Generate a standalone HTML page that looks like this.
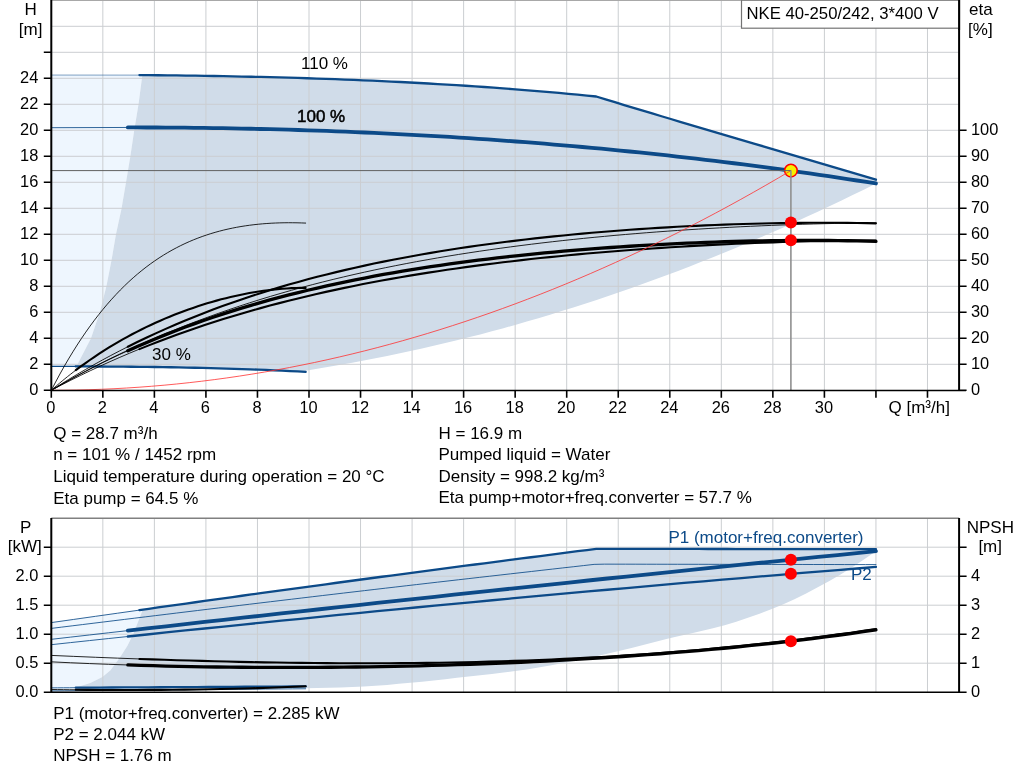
<!DOCTYPE html>
<html><head><meta charset="utf-8"><title>NKE 40-250/242</title>
<style>
html,body{margin:0;padding:0;background:#fff;}
body{width:1024px;height:781px;overflow:hidden;}
svg{display:block;}
text{font-family:"Liberation Sans",sans-serif;font-size:17px;fill:#000;}
.b{fill:#0c4a88;}
.m{text-anchor:middle;}
.t{font-size:16.4px;}
.e{text-anchor:end;}
</style></head><body>
<svg width="1024" height="781" viewBox="0 0 1024 781">
<rect width="1024" height="781" fill="#fff"/>

<path d="M51.30,75.05 L142.40,74.79 L138.51,104.30 L134.20,130.43 L130.31,156.56 L126.01,182.30 L121.50,208.69 L115.98,234.30 L111.50,260.30 L106.40,286.30 L99.80,312.30 L90.99,338.30 L76.61,366.12 L51.30,365.99Z" fill="#eef6fe"/>
<path d="M142.40,75.13 L151.68,75.21 L160.97,75.30 L170.25,75.40 L179.54,75.51 L188.82,75.63 L198.11,75.76 L207.39,75.90 L216.68,76.06 L225.97,76.22 L235.25,76.40 L244.54,76.59 L253.82,76.80 L263.11,77.02 L272.39,77.25 L281.68,77.49 L290.96,77.75 L300.25,78.03 L309.53,78.32 L318.82,78.62 L328.10,78.94 L337.39,79.28 L346.67,79.63 L355.96,80.00 L365.25,80.39 L374.53,80.79 L383.82,81.22 L393.10,81.66 L402.39,82.12 L411.67,82.59 L420.96,83.09 L430.24,83.61 L439.53,84.14 L448.81,84.70 L458.10,85.27 L467.38,85.87 L476.67,86.49 L485.96,87.13 L495.24,87.79 L504.53,88.48 L513.81,89.18 L523.10,89.91 L532.38,90.66 L541.67,91.44 L550.95,92.24 L560.24,93.06 L569.52,93.91 L578.81,94.78 L588.09,95.68 L597.38,96.82 L606.66,99.68 L615.95,102.52 L625.24,105.34 L634.52,108.15 L643.81,110.94 L653.09,113.72 L662.38,116.49 L671.66,119.26 L680.95,122.01 L690.23,124.76 L699.52,127.51 L708.80,130.25 L718.09,132.98 L727.37,135.72 L736.66,138.46 L745.95,141.19 L755.23,143.93 L764.52,146.67 L773.80,149.41 L783.09,152.15 L792.37,154.89 L801.66,157.64 L810.94,160.39 L820.23,163.14 L829.51,165.90 L838.80,168.65 L848.08,171.41 L857.37,174.18 L866.65,176.94 L875.94,179.70 L875.94,183.60 L875.94,183.60 L864.30,189.39 L852.66,195.10 L841.02,200.73 L829.39,206.28 L817.75,211.74 L806.11,217.12 L794.47,222.42 L782.83,227.64 L771.19,232.78 L759.55,237.83 L747.92,242.80 L736.28,247.69 L724.64,252.49 L713.00,257.21 L701.36,261.85 L689.72,266.41 L678.08,270.89 L666.45,275.28 L654.81,279.59 L643.17,283.82 L631.53,287.97 L619.89,292.03 L608.25,296.01 L596.61,299.91 L584.98,303.73 L573.34,307.46 L561.70,311.12 L550.06,314.69 L538.42,318.17 L526.78,321.58 L515.14,324.90 L503.51,328.14 L491.87,331.30 L480.23,334.38 L468.59,337.37 L456.95,340.28 L445.31,343.11 L433.67,345.86 L422.04,348.52 L410.40,351.10 L398.76,353.60 L387.12,356.02 L375.48,358.36 L363.84,360.61 L352.20,362.78 L340.57,364.87 L328.93,366.87 L317.29,368.80 L305.65,370.64 L305.65,371.84 L293.55,371.21 L281.45,370.63 L269.35,370.10 L257.26,369.61 L245.16,369.16 L233.06,368.76 L220.96,368.39 L208.86,368.07 L196.76,367.77 L184.67,367.51 L172.57,367.29 L160.47,367.09 L148.37,366.92 L136.27,366.78 L124.17,366.66 L112.08,366.57 L99.98,366.50 L87.88,366.44 L75.78,366.41 L76.61,366.12 L90.99,338.30 L99.80,312.30 L106.40,286.30 L111.50,260.30 L115.98,234.30 L121.50,208.69 L126.01,182.30 L130.31,156.56 L134.20,130.43 L138.51,104.30 L142.40,74.79Z" fill="#d0dce9"/>
<path d="M51.30,622.60 L142.71,609.84 L137.99,621.90 L133.30,634.03 L127.30,646.09 L119.90,657.52 L110.49,670.28 L102.40,677.00 L90.29,682.98 L74.91,687.68 L51.30,692.20Z" fill="#eef6fe"/>
<path d="M142.71,609.64 L151.99,608.33 L161.27,607.03 L170.55,605.72 L179.83,604.42 L189.11,603.12 L198.39,601.82 L207.68,600.52 L216.96,599.23 L226.24,597.94 L235.52,596.65 L244.80,595.37 L254.08,594.08 L263.36,592.80 L272.65,591.53 L281.93,590.26 L291.21,588.99 L300.49,587.72 L309.77,586.46 L319.05,585.20 L328.34,583.94 L337.62,582.69 L346.90,581.44 L356.18,580.19 L365.46,578.95 L374.74,577.71 L384.02,576.47 L393.31,575.24 L402.59,574.01 L411.87,572.78 L421.15,571.56 L430.43,570.33 L439.71,569.11 L448.99,567.90 L458.28,566.68 L467.56,565.47 L476.84,564.26 L486.12,563.05 L495.40,561.85 L504.68,560.65 L513.96,559.44 L523.25,558.24 L532.53,557.04 L541.81,555.85 L551.09,554.65 L560.37,553.45 L569.65,552.26 L578.93,551.06 L588.22,549.87 L597.50,548.83 L606.78,548.84 L616.06,548.85 L625.34,548.87 L634.62,548.88 L643.90,548.89 L653.19,548.91 L662.47,548.92 L671.75,548.93 L681.03,548.95 L690.31,548.96 L699.59,548.97 L708.87,548.99 L718.16,549.00 L727.44,549.01 L736.72,549.03 L746.00,549.04 L755.28,549.05 L764.56,549.07 L773.84,549.08 L783.13,549.10 L792.41,549.11 L801.69,549.12 L810.97,549.14 L820.25,549.15 L829.53,549.16 L838.81,549.18 L848.10,549.19 L857.38,549.20 L866.66,549.22 L875.94,549.23 L875.94,551.26 L864.30,559.27 L852.66,566.92 L841.02,574.16 L829.39,580.97 L817.75,587.34 L806.11,593.44 L794.47,599.19 L782.83,604.51 L771.19,609.34 L759.55,613.76 L747.92,617.87 L736.28,621.66 L724.64,625.14 L713.00,628.28 L701.36,631.07 L689.72,633.69 L678.08,636.30 L666.45,639.08 L654.81,642.03 L643.17,645.05 L631.53,648.03 L619.89,650.87 L608.25,653.55 L596.61,656.16 L584.98,658.66 L573.34,661.04 L561.70,663.27 L550.06,665.43 L538.42,667.47 L526.78,669.38 L515.14,671.09 L503.51,672.60 L491.87,673.97 L480.23,675.25 L468.59,676.52 L456.95,677.81 L445.31,679.14 L433.67,680.44 L422.04,681.67 L410.40,682.78 L398.76,683.87 L387.12,684.92 L375.48,685.84 L363.84,686.55 L352.20,687.02 L340.57,687.45 L328.93,687.80 L317.29,688.05 L305.65,688.14 L305.65,686.42 L280.11,686.56 L254.57,686.71 L229.03,686.85 L203.49,686.99 L177.95,687.14 L152.40,687.28 L126.86,687.42 L101.32,687.57 L75.78,687.71 L74.91,687.68 L90.29,682.98 L102.40,677.00 L110.49,670.28 L119.90,657.52 L127.30,646.09 L133.30,634.03 L137.99,621.90 L142.71,609.84Z" fill="#d0dce9"/>
<path d="M102.84,0V390.30 M102.84,518V692.20 M154.38,0V390.30 M154.38,518V692.20 M205.92,0V390.30 M205.92,518V692.20 M257.46,0V390.30 M257.46,518V692.20 M309.00,0V390.30 M309.00,518V692.20 M360.54,0V390.30 M360.54,518V692.20 M412.08,0V390.30 M412.08,518V692.20 M463.62,0V390.30 M463.62,518V692.20 M515.16,0V390.30 M515.16,518V692.20 M566.70,0V390.30 M566.70,518V692.20 M618.24,0V390.30 M618.24,518V692.20 M669.78,0V390.30 M669.78,518V692.20 M721.32,0V390.30 M721.32,518V692.20 M772.86,0V390.30 M772.86,518V692.20 M824.40,0V390.30 M824.40,518V692.20 M875.94,0V390.30 M875.94,518V692.20 M927.48,0V390.30 M927.48,518V692.20 M51.30,364.30H959.10 M51.30,338.30H959.10 M51.30,312.30H959.10 M51.30,286.30H959.10 M51.30,260.30H959.10 M51.30,234.30H959.10 M51.30,208.30H959.10 M51.30,182.30H959.10 M51.30,156.30H959.10 M51.30,130.30H959.10 M51.30,104.30H959.10 M51.30,78.30H959.10 M51.30,52.30H959.10 M51.30,26.30H959.10 M51.30,663.20H959.10 M51.30,634.20H959.10 M51.30,605.20H959.10 M51.30,576.20H959.10 M51.30,547.20H959.10" stroke="#cbced1" stroke-width="1" fill="none"/>
<path d="M51.3,0.3H959.1" stroke="#a8a8a8" stroke-width="1.2"/>
<path d="M51.3,518.2H959.1" stroke="#808080" stroke-width="1.6"/>
<path d="M51.30,75.05 L139.43,75.11" stroke="#0c4a88" stroke-width="0.85" fill="none" stroke-linecap="round" stroke-linejoin="round" opacity="0.6"/>
<path d="M51.30,127.70 L127.84,127.46" stroke="#0c4a88" stroke-width="0.85" fill="none" stroke-linecap="round" stroke-linejoin="round" />
<path d="M51.30,366.41 L75.78,366.41" stroke="#0c4a88" stroke-width="1.2" fill="none" stroke-linecap="round" stroke-linejoin="round" />
<path d="M139.43,75.11 L148.76,75.18 L158.08,75.27 L167.40,75.37 L176.72,75.47 L186.05,75.59 L195.37,75.72 L204.69,75.86 L214.02,76.01 L223.34,76.18 L232.66,76.35 L241.98,76.54 L251.31,76.74 L260.63,76.96 L269.95,77.19 L279.28,77.43 L288.60,77.69 L297.92,77.96 L307.25,78.24 L316.57,78.55 L325.89,78.86 L335.21,79.20 L344.54,79.55 L353.86,79.92 L363.18,80.30 L372.51,80.70 L381.83,81.12 L391.15,81.56 L400.47,82.02 L409.80,82.50 L419.12,82.99 L428.44,83.50 L437.77,84.04 L447.09,84.59 L456.41,85.17 L465.73,85.76 L475.06,86.38 L484.38,87.02 L493.70,87.68 L503.03,88.36 L512.35,89.07 L521.67,89.80 L530.99,90.55 L540.32,91.32 L549.64,92.12 L558.96,92.95 L568.29,93.80 L577.61,94.67 L586.93,95.57 L596.25,96.49 L605.58,99.35 L614.90,102.20 L624.22,105.04 L633.55,107.86 L642.87,110.66 L652.19,113.45 L661.51,116.24 L670.84,119.01 L680.16,121.78 L689.48,124.54 L698.81,127.30 L708.13,130.05 L717.45,132.80 L726.77,135.54 L736.10,138.29 L745.42,141.04 L754.74,143.79 L764.07,146.54 L773.39,149.29 L782.71,152.04 L792.03,154.79 L801.36,157.55 L810.68,160.31 L820.00,163.08 L829.33,165.84 L838.65,168.61 L847.97,171.38 L857.29,174.15 L866.62,176.93 L875.94,179.70" stroke="#0c4a88" stroke-width="2.3" fill="none" stroke-linecap="round" stroke-linejoin="round" />
<path d="M127.84,127.46 L137.31,127.47 L146.78,127.49 L156.25,127.52 L165.72,127.57 L175.19,127.64 L184.65,127.72 L194.12,127.82 L203.59,127.93 L213.06,128.07 L222.53,128.21 L232.00,128.38 L241.47,128.56 L250.94,128.76 L260.41,128.98 L269.88,129.21 L279.35,129.46 L288.82,129.72 L298.29,130.01 L307.76,130.31 L317.23,130.63 L326.70,130.96 L336.17,131.32 L345.64,131.69 L355.11,132.08 L364.58,132.48 L374.05,132.91 L383.52,133.35 L392.99,133.81 L402.46,134.29 L411.93,134.79 L421.40,135.31 L430.87,135.84 L440.34,136.39 L449.81,136.97 L459.27,137.56 L468.74,138.17 L478.21,138.80 L487.68,139.44 L497.15,140.11 L506.62,140.80 L516.09,141.50 L525.56,142.22 L535.03,142.97 L544.50,143.73 L553.97,144.52 L563.44,145.32 L572.91,146.14 L582.38,146.99 L591.85,147.85 L601.32,148.73 L610.79,149.63 L620.26,150.56 L629.73,151.50 L639.20,152.47 L648.67,153.45 L658.14,154.46 L667.61,155.48 L677.08,156.53 L686.55,157.60 L696.02,158.69 L705.49,159.80 L714.96,160.93 L724.43,162.08 L733.90,163.26 L743.36,164.45 L752.83,165.67 L762.30,166.91 L771.77,168.17 L781.24,169.45 L790.71,170.75 L800.18,172.08 L809.65,173.43 L819.12,174.80 L828.59,176.19 L838.06,177.61 L847.53,179.04 L857.00,180.50 L866.47,181.99 L875.94,183.49" stroke="#0c4a88" stroke-width="3.8" fill="none" stroke-linecap="round" stroke-linejoin="round" />
<path d="M75.78,366.41 L83.71,366.43 L91.63,366.46 L99.56,366.49 L107.49,366.54 L115.41,366.59 L123.34,366.66 L131.27,366.73 L139.19,366.81 L147.12,366.91 L155.05,367.01 L162.97,367.13 L170.90,367.26 L178.83,367.40 L186.75,367.56 L194.68,367.73 L202.61,367.91 L210.53,368.11 L218.46,368.32 L226.38,368.55 L234.31,368.80 L242.24,369.06 L250.16,369.34 L258.09,369.64 L266.02,369.96 L273.94,370.30 L281.87,370.65 L289.80,371.03 L297.72,371.42 L305.65,371.84" stroke="#0c4a88" stroke-width="2.3" fill="none" stroke-linecap="round" stroke-linejoin="round" />
<path d="M51.30,390.30 L55.61,382.02 L59.92,374.04 L64.23,366.36 L68.54,358.96 L72.86,351.85 L77.17,345.01 L81.48,338.43 L85.79,332.11 L90.10,326.04 L94.41,320.22 L98.72,314.64 L103.03,309.29 L107.34,304.16 L111.65,299.25 L115.97,294.55 L120.28,290.06 L124.59,285.77 L128.90,281.67 L133.21,277.76 L137.52,274.04 L141.83,270.49 L146.14,267.11 L150.45,263.90 L154.76,260.85 L159.08,257.95 L163.39,255.21 L167.70,252.61 L172.01,250.15 L176.32,247.83 L180.63,245.64 L184.94,243.57 L189.25,241.63 L193.56,239.81 L197.87,238.11 L202.19,236.51 L206.50,235.02 L210.81,233.64 L215.12,232.35 L219.43,231.16 L223.74,230.06 L228.05,229.05 L232.36,228.13 L236.67,227.29 L240.98,226.53 L245.30,225.85 L249.61,225.24 L253.92,224.71 L258.23,224.24 L262.54,223.84 L266.85,223.51 L271.16,223.23 L275.47,223.02 L279.78,222.87 L284.09,222.78 L288.41,222.73 L292.72,222.75 L297.03,222.81 L301.34,222.93 L305.65,223.09" stroke="#000" stroke-width="0.85" fill="none" stroke-linecap="round" stroke-linejoin="round" />
<path d="M51.30,390.30 L54.02,387.91 L56.74,385.56 L59.46,383.26 L62.18,380.99 L64.90,378.76 L67.62,376.56 L70.34,374.41 L73.06,372.29 L75.78,370.21" stroke="#000" stroke-width="0.85" fill="none" stroke-linecap="round" stroke-linejoin="round" />
<path d="M75.78,370.21 L80.47,366.70 L85.16,363.30 L89.86,359.99 L94.55,356.78 L99.24,353.67 L103.93,350.64 L108.62,347.71 L113.31,344.86 L118.00,342.09 L122.69,339.41 L127.38,336.81 L132.08,334.28 L136.77,331.84 L141.46,329.46 L146.15,327.16 L150.84,324.93 L155.53,322.77 L160.22,320.68 L164.91,318.66 L169.61,316.70 L174.30,314.81 L178.99,312.99 L183.68,311.22 L188.37,309.52 L193.06,307.89 L197.75,306.31 L202.44,304.80 L207.13,303.35 L211.83,301.96 L216.52,300.63 L221.21,299.36 L225.90,298.16 L230.59,297.02 L235.28,295.94 L239.97,294.92 L244.66,293.97 L249.36,293.08 L254.05,292.26 L258.74,291.50 L263.43,290.81 L268.12,290.19 L272.81,289.64 L277.50,289.16 L282.19,288.76 L286.89,288.43 L291.58,288.17 L296.27,287.99 L300.96,287.90 L305.65,287.88" stroke="#000" stroke-width="2.1" fill="none" stroke-linecap="round" stroke-linejoin="round" />
<path d="M51.30,390.30 L61.74,384.30 L72.18,378.47 L82.62,372.82 L93.05,367.33 L103.49,362.02 L113.93,356.86 L124.37,351.87 L134.81,347.02 L145.25,342.33 L155.68,337.78 L166.12,333.38 L176.56,329.11 L187.00,324.98 L197.44,320.98 L207.88,317.11 L218.32,313.36 L228.75,309.73 L239.19,306.22 L249.63,302.83 L260.07,299.54 L270.51,296.37 L280.95,293.30 L291.39,290.33 L301.82,287.46 L312.26,284.68 L322.70,282.00 L333.14,279.41 L343.58,276.91 L354.02,274.49 L364.45,272.16 L374.89,269.90 L385.33,267.73 L395.77,265.63 L406.21,263.60 L416.65,261.64 L427.09,259.75 L437.52,257.93 L447.96,256.17 L458.40,254.48 L468.84,252.85 L479.28,251.27 L489.72,249.75 L500.15,248.29 L510.59,246.88 L521.03,245.52 L531.47,244.21 L541.91,242.95 L552.35,241.74 L562.79,240.57 L573.22,239.45 L583.66,238.37 L594.10,237.34 L604.54,236.35 L614.98,235.39 L625.42,234.48 L635.85,233.60 L646.29,232.76 L656.73,231.96 L667.17,231.19 L677.61,230.46 L688.05,229.76 L698.49,229.10 L708.92,228.47 L719.36,227.88 L729.80,227.31 L740.24,226.78 L750.68,226.29 L761.12,225.82 L771.56,225.39 L781.99,224.99 L792.43,224.62 L802.87,224.28 L813.31,223.98 L823.75,223.70 L834.19,223.46 L844.62,223.26 L855.06,223.09 L865.50,222.95 L875.94,222.85" stroke="#000" stroke-width="0.85" fill="none" stroke-linecap="round" stroke-linejoin="round" />
<path d="M51.30,390.30 L61.09,385.16 L70.89,380.18 L80.68,375.33 L90.47,370.63 L100.26,366.07 L110.06,361.63 L119.85,357.33 L129.64,353.16 L139.43,349.11" stroke="#000" stroke-width="0.85" fill="none" stroke-linecap="round" stroke-linejoin="round" />
<path d="M139.43,349.11 L148.76,345.37 L158.08,341.74 L167.40,338.21 L176.72,334.78 L186.05,331.45 L195.37,328.22 L204.69,325.08 L214.02,322.04 L223.34,319.09 L232.66,316.22 L241.98,313.44 L251.31,310.74 L260.63,308.12 L269.95,305.58 L279.28,303.12 L288.60,300.74 L297.92,298.42 L307.25,296.18 L316.57,294.00 L325.89,291.89 L335.21,289.85 L344.54,287.87 L353.86,285.95 L363.18,284.09 L372.51,282.29 L381.83,280.54 L391.15,278.85 L400.47,277.22 L409.80,275.63 L419.12,274.09 L428.44,272.61 L437.77,271.17 L447.09,269.77 L456.41,268.42 L465.73,267.11 L475.06,265.85 L484.38,264.63 L493.70,263.44 L503.03,262.30 L512.35,261.19 L521.67,260.12 L530.99,259.08 L540.32,258.08 L549.64,257.11 L558.96,256.18 L568.29,255.27 L577.61,254.40 L586.93,253.56 L596.25,252.75 L605.58,251.96 L614.90,251.21 L624.22,250.48 L633.55,249.78 L642.87,249.11 L652.19,248.46 L661.51,247.84 L670.84,247.25 L680.16,246.68 L689.48,246.13 L698.81,245.62 L708.13,245.12 L717.45,244.65 L726.77,244.20 L736.10,243.78 L745.42,243.38 L754.74,243.01 L764.07,242.66 L773.39,242.33 L782.71,242.03 L792.03,241.76 L801.36,241.51 L810.68,241.28 L820.00,241.08 L829.33,240.90 L838.65,240.75 L847.97,240.63 L857.29,240.54 L866.62,240.47 L875.94,240.43" stroke="#000" stroke-width="2.1" fill="none" stroke-linecap="round" stroke-linejoin="round" />
<path d="M51.30,390.30 L59.80,384.91 L68.31,379.66 L76.81,374.56 L85.32,369.59 L93.82,364.76 L102.32,360.06 L110.83,355.48 L119.33,351.04 L127.84,346.71" stroke="#000" stroke-width="0.85" fill="none" stroke-linecap="round" stroke-linejoin="round" />
<path d="M127.84,346.71 L137.31,342.04 L146.78,337.51 L156.25,333.12 L165.72,328.87 L175.19,324.76 L184.65,320.77 L194.12,316.91 L203.59,313.18 L213.06,309.56 L222.53,306.07 L232.00,302.68 L241.47,299.41 L250.94,296.25 L260.41,293.19 L269.88,290.23 L279.35,287.37 L288.82,284.60 L298.29,281.93 L307.76,279.35 L317.23,276.85 L326.70,274.44 L336.17,272.11 L345.64,269.87 L355.11,267.70 L364.58,265.60 L374.05,263.58 L383.52,261.63 L392.99,259.74 L402.46,257.92 L411.93,256.17 L421.40,254.48 L430.87,252.85 L440.34,251.28 L449.81,249.76 L459.27,248.30 L468.74,246.89 L478.21,245.53 L487.68,244.23 L497.15,242.97 L506.62,241.76 L516.09,240.60 L525.56,239.48 L535.03,238.40 L544.50,237.37 L553.97,236.37 L563.44,235.42 L572.91,234.51 L582.38,233.63 L591.85,232.79 L601.32,231.99 L610.79,231.22 L620.26,230.49 L629.73,229.79 L639.20,229.13 L648.67,228.50 L658.14,227.91 L667.61,227.34 L677.08,226.81 L686.55,226.31 L696.02,225.85 L705.49,225.41 L714.96,225.01 L724.43,224.64 L733.90,224.30 L743.36,224.00 L752.83,223.72 L762.30,223.48 L771.77,223.27 L781.24,223.10 L790.71,222.96 L800.18,222.85 L809.65,222.78 L819.12,222.75 L828.59,222.75 L838.06,222.79 L847.53,222.87 L857.00,222.98 L866.47,223.14 L875.94,223.34" stroke="#000" stroke-width="2.1" fill="none" stroke-linecap="round" stroke-linejoin="round" />
<path d="M51.30,390.30 L59.80,385.39 L68.31,380.62 L76.81,375.98 L85.32,371.46 L93.82,367.08 L102.32,362.81 L110.83,358.67 L119.33,354.64 L127.84,350.73" stroke="#000" stroke-width="0.85" fill="none" stroke-linecap="round" stroke-linejoin="round" />
<path d="M127.84,350.73 L137.31,346.50 L146.78,342.41 L156.25,338.45 L165.72,334.62 L175.19,330.92 L184.65,327.33 L194.12,323.86 L203.59,320.50 L213.06,317.26 L222.53,314.12 L232.00,311.09 L241.47,308.16 L250.94,305.33 L260.41,302.59 L269.88,299.95 L279.35,297.39 L288.82,294.93 L298.29,292.54 L307.76,290.24 L317.23,288.02 L326.70,285.87 L336.17,283.80 L345.64,281.80 L355.11,279.87 L364.58,278.01 L374.05,276.21 L383.52,274.48 L392.99,272.81 L402.46,271.19 L411.93,269.64 L421.40,268.14 L430.87,266.69 L440.34,265.30 L449.81,263.95 L459.27,262.65 L468.74,261.41 L478.21,260.20 L487.68,259.04 L497.15,257.93 L506.62,256.85 L516.09,255.82 L525.56,254.83 L535.03,253.87 L544.50,252.95 L553.97,252.07 L563.44,251.23 L572.91,250.42 L582.38,249.64 L591.85,248.90 L601.32,248.19 L610.79,247.51 L620.26,246.86 L629.73,246.24 L639.20,245.66 L648.67,245.11 L658.14,244.58 L667.61,244.09 L677.08,243.63 L686.55,243.19 L696.02,242.79 L705.49,242.42 L714.96,242.08 L724.43,241.77 L733.90,241.49 L743.36,241.24 L752.83,241.02 L762.30,240.83 L771.77,240.68 L781.24,240.56 L790.71,240.48 L800.18,240.43 L809.65,240.42 L819.12,240.44 L828.59,240.50 L838.06,240.60 L847.53,240.73 L857.00,240.91 L866.47,241.13 L875.94,241.39" stroke="#000" stroke-width="3.3" fill="none" stroke-linecap="round" stroke-linejoin="round" />
<path d="M51.30,622.60 L73.33,619.47 L95.37,616.34 L117.40,613.22 L139.43,610.11" stroke="#0c4a88" stroke-width="0.85" fill="none" stroke-linecap="round" stroke-linejoin="round" />
<path d="M139.43,610.11 L148.76,608.79 L158.08,607.48 L167.40,606.16 L176.72,604.86 L186.05,603.55 L195.37,602.24 L204.69,600.94 L214.02,599.64 L223.34,598.34 L232.66,597.05 L241.98,595.76 L251.31,594.47 L260.63,593.18 L269.95,591.90 L279.28,590.62 L288.60,589.34 L297.92,588.07 L307.25,586.80 L316.57,585.53 L325.89,584.27 L335.21,583.01 L344.54,581.76 L353.86,580.50 L363.18,579.25 L372.51,578.01 L381.83,576.76 L391.15,575.52 L400.47,574.29 L409.80,573.05 L419.12,571.82 L428.44,570.59 L437.77,569.37 L447.09,568.15 L456.41,566.93 L465.73,565.71 L475.06,564.49 L484.38,563.28 L493.70,562.07 L503.03,560.86 L512.35,559.65 L521.67,558.45 L530.99,557.24 L540.32,556.04 L549.64,554.84 L558.96,553.63 L568.29,552.43 L577.61,551.23 L586.93,550.03 L596.25,548.83 L605.58,548.84 L614.90,548.85 L624.22,548.86 L633.55,548.88 L642.87,548.89 L652.19,548.91 L661.51,548.92 L670.84,548.93 L680.16,548.95 L689.48,548.96 L698.81,548.97 L708.13,548.99 L717.45,549.00 L726.77,549.01 L736.10,549.03 L745.42,549.04 L754.74,549.05 L764.07,549.07 L773.39,549.08 L782.71,549.09 L792.03,549.11 L801.36,549.12 L810.68,549.14 L820.00,549.15 L829.33,549.16 L838.65,549.18 L847.97,549.19 L857.29,549.20 L866.62,549.22 L875.94,549.23" stroke="#0c4a88" stroke-width="2.3" fill="none" stroke-linecap="round" stroke-linejoin="round" />
<path d="M51.30,628.40 L61.74,627.12 L72.18,625.83 L82.62,624.55 L93.05,623.27 L103.49,621.99 L113.93,620.71 L124.37,619.43 L134.81,618.15 L145.25,616.87 L155.68,615.60 L166.12,614.33 L176.56,613.06 L187.00,611.79 L197.44,610.52 L207.88,609.26 L218.32,607.99 L228.75,606.73 L239.19,605.48 L249.63,604.22 L260.07,602.97 L270.51,601.72 L280.95,600.48 L291.39,599.24 L301.82,598.00 L312.26,596.76 L322.70,595.53 L333.14,594.30 L343.58,593.07 L354.02,591.85 L364.45,590.63 L374.89,589.41 L385.33,588.20 L395.77,586.99 L406.21,585.78 L416.65,584.57 L427.09,583.37 L437.52,582.17 L447.96,580.97 L458.40,579.78 L468.84,578.59 L479.28,577.39 L489.72,576.21 L500.15,575.02 L510.59,573.83 L521.03,572.65 L531.47,571.47 L541.91,570.28 L552.35,569.10 L562.79,567.92 L573.22,566.75 L583.66,565.57 L594.10,564.39 L604.54,564.15 L614.98,564.17 L625.42,564.18 L635.85,564.20 L646.29,564.22 L656.73,564.24 L667.17,564.25 L677.61,564.27 L688.05,564.29 L698.49,564.31 L708.92,564.32 L719.36,564.34 L729.80,564.36 L740.24,564.37 L750.68,564.39 L761.12,564.41 L771.56,564.43 L781.99,564.44 L792.43,564.46 L802.87,564.48 L813.31,564.50 L823.75,564.51 L834.19,564.53 L844.62,564.55 L855.06,564.57 L865.50,564.58 L875.94,564.60" stroke="#0c4a88" stroke-width="0.85" fill="none" stroke-linecap="round" stroke-linejoin="round" />
<path d="M51.30,639.33 L70.43,637.14 L89.57,634.96 L108.70,632.78 L127.84,630.61" stroke="#0c4a88" stroke-width="0.85" fill="none" stroke-linecap="round" stroke-linejoin="round" />
<path d="M127.84,630.61 L147.02,628.44 L166.20,626.28 L185.38,624.13 L204.57,621.98 L223.75,619.84 L242.93,617.71 L262.11,615.59 L281.29,613.47 L300.48,611.36 L319.66,609.25 L338.84,607.15 L358.02,605.06 L377.20,602.98 L396.39,600.90 L415.57,598.83 L434.75,596.77 L453.93,594.71 L473.12,592.66 L492.30,590.62 L511.48,588.58 L530.66,586.56 L549.84,584.53 L569.03,582.52 L588.21,580.51 L607.39,578.51 L626.57,576.52 L645.75,574.53 L664.94,572.55 L684.12,570.58 L703.30,568.61 L722.48,566.65 L741.67,564.70 L760.85,562.76 L780.03,560.82 L799.21,558.89 L818.39,556.96 L837.58,555.04 L856.76,553.13 L875.94,551.23" stroke="#0c4a88" stroke-width="3.8" fill="none" stroke-linecap="round" stroke-linejoin="round" />
<path d="M51.30,644.69 L70.43,642.62 L89.57,640.57 L108.70,638.53 L127.84,636.51" stroke="#0c4a88" stroke-width="0.85" fill="none" stroke-linecap="round" stroke-linejoin="round" />
<path d="M127.84,636.51 L147.02,634.49 L166.20,632.48 L185.38,630.48 L204.57,628.50 L223.75,626.53 L242.93,624.57 L262.11,622.63 L281.29,620.70 L300.48,618.77 L319.66,616.87 L338.84,614.97 L358.02,613.09 L377.20,611.22 L396.39,609.36 L415.57,607.51 L434.75,605.68 L453.93,603.86 L473.12,602.05 L492.30,600.25 L511.48,598.47 L530.66,596.70 L549.84,594.94 L569.03,593.19 L588.21,591.46 L607.39,589.73 L626.57,588.03 L645.75,586.33 L664.94,584.64 L684.12,582.97 L703.30,581.31 L722.48,579.66 L741.67,578.03 L760.85,576.41 L780.03,574.80 L799.21,573.20 L818.39,571.61 L837.58,570.04 L856.76,568.48 L875.94,566.93" stroke="#0c4a88" stroke-width="2.3" fill="none" stroke-linecap="round" stroke-linejoin="round" />
<path d="M51.30,687.85 L57.42,687.82 L63.54,687.78 L69.66,687.75 L75.78,687.71" stroke="#0c4a88" stroke-width="0.85" fill="none" stroke-linecap="round" stroke-linejoin="round" />
<path d="M75.78,687.71 L87.88,687.64 L99.98,687.58 L112.08,687.51 L124.17,687.44 L136.27,687.37 L148.37,687.30 L160.47,687.24 L172.57,687.17 L184.67,687.10 L196.76,687.03 L208.86,686.96 L220.96,686.90 L233.06,686.83 L245.16,686.76 L257.26,686.69 L269.35,686.62 L281.45,686.55 L293.55,686.49 L305.65,686.42" stroke="#0c4a88" stroke-width="2.3" fill="none" stroke-linecap="round" stroke-linejoin="round" />
<path d="M51.30,690.92 L64.69,690.79 L78.07,690.66 L91.46,690.53 L104.85,690.41 L118.23,690.29 L131.62,690.17 L145.01,690.05 L158.39,689.93 L171.78,689.82 L185.17,689.70 L198.56,689.59 L211.94,689.48 L225.33,689.38 L238.72,689.27 L252.10,689.17 L265.49,689.06 L278.88,688.96 L292.26,688.86 L305.65,688.77" stroke="#0c4a88" stroke-width="0.85" fill="none" stroke-linecap="round" stroke-linejoin="round" />
<path d="M51.30,655.41 L73.33,656.37 L95.37,657.27 L117.40,658.13 L139.43,658.94" stroke="#000" stroke-width="0.85" fill="none" stroke-linecap="round" stroke-linejoin="round" />
<path d="M139.43,658.94 L151.92,659.37 L164.40,659.79 L176.88,660.18 L189.37,660.56 L201.85,660.91 L214.33,661.25 L226.82,661.56 L239.30,661.84 L251.78,662.11 L264.27,662.35 L276.75,662.56 L289.23,662.75 L301.71,662.91 L314.20,663.05 L326.68,663.15 L339.16,663.23 L351.65,663.28 L364.13,663.30 L376.61,663.29 L389.10,663.24 L401.58,663.16 L414.06,663.05 L426.55,662.91 L439.03,662.73 L451.51,662.52 L464.00,662.27 L476.48,661.98 L488.96,661.66 L501.45,661.29 L513.93,660.89 L526.41,660.45 L538.89,659.97 L551.38,659.45 L563.86,658.88 L576.34,658.28 L588.83,657.63 L601.31,656.93 L613.79,656.19 L626.28,655.41 L638.76,654.58 L651.24,653.70 L663.73,652.77 L676.21,651.80 L688.69,650.78 L701.18,649.70 L713.66,648.58 L726.14,647.40 L738.63,646.18 L751.11,644.90 L763.59,643.56 L776.07,642.18 L788.56,640.73 L801.04,639.23 L813.52,637.68 L826.01,636.07 L838.49,634.40 L850.97,632.67 L863.46,630.88 L875.94,629.03" stroke="#000" stroke-width="2.1" fill="none" stroke-linecap="round" stroke-linejoin="round" />
<path d="M51.30,661.84 L70.43,662.75 L89.57,663.58 L108.70,664.32 L127.84,664.97" stroke="#000" stroke-width="0.85" fill="none" stroke-linecap="round" stroke-linejoin="round" />
<path d="M127.84,664.97 L140.52,665.36 L153.20,665.72 L165.88,666.04 L178.56,666.32 L191.24,666.58 L203.92,666.80 L216.59,666.98 L229.27,667.14 L241.95,667.26 L254.63,667.36 L267.31,667.42 L279.99,667.45 L292.67,667.45 L305.35,667.42 L318.03,667.36 L330.71,667.27 L343.39,667.15 L356.07,667.00 L368.75,666.82 L381.43,666.61 L394.11,666.37 L406.79,666.10 L419.47,665.79 L432.15,665.46 L444.83,665.10 L457.51,664.70 L470.19,664.27 L482.87,663.82 L495.55,663.32 L508.23,662.80 L520.91,662.24 L533.59,661.65 L546.27,661.03 L558.95,660.37 L571.63,659.67 L584.31,658.94 L596.99,658.17 L609.67,657.36 L622.35,656.51 L635.03,655.62 L647.71,654.70 L660.38,653.73 L673.06,652.72 L685.74,651.67 L698.42,650.57 L711.10,649.43 L723.78,648.24 L736.46,647.00 L749.14,645.72 L761.82,644.38 L774.50,642.99 L787.18,641.56 L799.86,640.06 L812.54,638.51 L825.22,636.91 L837.90,635.25 L850.58,633.52 L863.26,631.74 L875.94,629.89" stroke="#000" stroke-width="3.3" fill="none" stroke-linecap="round" stroke-linejoin="round" />
<path d="M51.30,689.47 L57.42,689.55 L63.54,689.63 L69.66,689.70 L75.78,689.76" stroke="#000" stroke-width="0.85" fill="none" stroke-linecap="round" stroke-linejoin="round" />
<path d="M75.78,689.76 L87.88,689.86 L99.98,689.93 L112.08,689.96 L124.17,689.97 L136.27,689.95 L148.37,689.91 L160.47,689.83 L172.57,689.73 L184.67,689.60 L196.76,689.44 L208.86,689.25 L220.96,689.02 L233.06,688.76 L245.16,688.46 L257.26,688.12 L269.35,687.73 L281.45,687.30 L293.55,686.82 L305.65,686.27" stroke="#000" stroke-width="2.1" fill="none" stroke-linecap="round" stroke-linejoin="round" />
<circle cx="790.90" cy="170.60" r="6.3" fill="#f6f000" stroke="#f00" stroke-width="1.5"/>
<path d="M51.30,390.30 L63.84,390.24 L76.37,390.05 L88.91,389.73 L101.44,389.29 L113.98,388.72 L126.51,388.03 L139.05,387.21 L151.58,386.26 L164.12,385.19 L176.66,383.99 L189.19,382.66 L201.73,381.21 L214.26,379.63 L226.80,377.93 L239.33,376.10 L251.87,374.14 L264.40,372.06 L276.94,369.85 L289.48,367.52 L302.01,365.05 L314.55,362.47 L327.08,359.75 L339.62,356.91 L352.15,353.95 L364.69,350.85 L377.22,347.63 L389.76,344.29 L402.30,340.82 L414.83,337.22 L427.37,333.50 L439.90,329.65 L452.44,325.67 L464.97,321.57 L477.51,317.34 L490.05,312.99 L502.58,308.50 L515.12,303.90 L527.65,299.16 L540.19,294.30 L552.72,289.32 L565.26,284.21 L577.79,278.97 L590.33,273.60 L602.87,268.11 L615.40,262.49 L627.94,256.75 L640.47,250.88 L653.01,244.89 L665.54,238.76 L678.08,232.51 L690.61,226.14 L703.15,219.64 L715.69,213.01 L728.22,206.26 L740.76,199.38 L753.29,192.37 L765.83,185.24 L778.36,177.98 L790.90,170.60" stroke="#ff3030" stroke-width="0.8" fill="none" stroke-linecap="round" stroke-linejoin="round" />
<path d="M51.3,170.60H790.90" stroke="#606060" stroke-width="1"/>
<path d="M790.90,170.60V390.3" stroke="#909090" stroke-width="1.6"/>
<circle cx="790.90" cy="222.60" r="6" fill="#f00"/>
<circle cx="790.90" cy="240.28" r="6" fill="#f00"/>
<circle cx="790.90" cy="559.67" r="6" fill="#f00"/>
<circle cx="790.90" cy="573.65" r="6" fill="#f00"/>
<circle cx="790.90" cy="641.16" r="6" fill="#f00"/>
<path d="M51.3,0V390.3 M959.1,0V390.3 M51.3,518V692.2 M959.1,518V692.2" stroke="#000" stroke-width="2" fill="none"/>
<path d="M50.3,390.5H966.1 M50.3,692.2H966.1 M51.30,390.3v7.5 M102.84,390.3v7.5 M154.38,390.3v7.5 M205.92,390.3v7.5 M257.46,390.3v7.5 M309.00,390.3v7.5 M360.54,390.3v7.5 M412.08,390.3v7.5 M463.62,390.3v7.5 M515.16,390.3v7.5 M566.70,390.3v7.5 M618.24,390.3v7.5 M669.78,390.3v7.5 M721.32,390.3v7.5 M772.86,390.3v7.5 M824.40,390.3v7.5 M875.94,390.3v7.5 M927.48,390.3v7.5 M51.3,390.30h-7.5 M51.3,364.30h-7.5 M51.3,338.30h-7.5 M51.3,312.30h-7.5 M51.3,286.30h-7.5 M51.3,260.30h-7.5 M51.3,234.30h-7.5 M51.3,208.30h-7.5 M51.3,182.30h-7.5 M51.3,156.30h-7.5 M51.3,130.30h-7.5 M51.3,104.30h-7.5 M51.3,78.30h-7.5 M51.3,52.30h-7.5 M959.1,390.30h7.5 M959.1,364.30h7.5 M959.1,338.30h7.5 M959.1,312.30h7.5 M959.1,286.30h7.5 M959.1,260.30h7.5 M959.1,234.30h7.5 M959.1,208.30h7.5 M959.1,182.30h7.5 M959.1,156.30h7.5 M959.1,130.30h7.5 M51.3,692.20h-7.5 M959.1,692.20h7.5 M51.3,663.20h-7.5 M959.1,663.20h7.5 M51.3,634.20h-7.5 M959.1,634.20h7.5 M51.3,605.20h-7.5 M959.1,605.20h7.5 M51.3,576.20h-7.5 M959.1,576.20h7.5 M51.3,547.20h-7.5 M959.1,547.20h7.5" stroke="#000" stroke-width="1.6" fill="none"/>
<rect x="741.5" y="0.2" width="217.60000000000002" height="28" fill="#fff" stroke="#747474" stroke-width="1.2"/>
<path d="M959.1,0V30" stroke="#000" stroke-width="2"/>
<text x="746.5" y="19.2" style="font-size:16.7px">NKE 40-250/242, 3*400 V</text>
<text class="m" x="30.6" y="14.7">H</text>
<text class="m" x="30.6" y="34.7">[m]</text>
<text class="e t" x="38.3" y="395.0">0</text>
<text class="e t" x="38.3" y="369.0">2</text>
<text class="e t" x="38.3" y="343.0">4</text>
<text class="e t" x="38.3" y="317.0">6</text>
<text class="e t" x="38.3" y="291.0">8</text>
<text class="e t" x="38.3" y="265.0">10</text>
<text class="e t" x="38.3" y="239.0">12</text>
<text class="e t" x="38.3" y="213.0">14</text>
<text class="e t" x="38.3" y="187.0">16</text>
<text class="e t" x="38.3" y="161.0">18</text>
<text class="e t" x="38.3" y="135.0">20</text>
<text class="e t" x="38.3" y="109.0">22</text>
<text class="e t" x="38.3" y="83.0">24</text>
<text class="m t" x="50.8" y="412.9">0</text>
<text class="m t" x="102.3" y="412.9">2</text>
<text class="m t" x="153.9" y="412.9">4</text>
<text class="m t" x="205.4" y="412.9">6</text>
<text class="m t" x="257.0" y="412.9">8</text>
<text class="m t" x="308.5" y="412.9">10</text>
<text class="m t" x="360.0" y="412.9">12</text>
<text class="m t" x="411.6" y="412.9">14</text>
<text class="m t" x="463.1" y="412.9">16</text>
<text class="m t" x="514.7" y="412.9">18</text>
<text class="m t" x="566.2" y="412.9">20</text>
<text class="m t" x="617.7" y="412.9">22</text>
<text class="m t" x="669.3" y="412.9">24</text>
<text class="m t" x="720.8" y="412.9">26</text>
<text class="m t" x="772.4" y="412.9">28</text>
<text class="m t" x="823.9" y="412.9">30</text>
<text x="888.5" y="412.9">Q [m³/h]</text>
<text class="t" x="971" y="395.0">0</text>
<text class="t" x="971" y="369.0">10</text>
<text class="t" x="971" y="343.0">20</text>
<text class="t" x="971" y="317.0">30</text>
<text class="t" x="971" y="291.0">40</text>
<text class="t" x="971" y="265.0">50</text>
<text class="t" x="971" y="239.0">60</text>
<text class="t" x="971" y="213.0">70</text>
<text class="t" x="971" y="187.0">80</text>
<text class="t" x="971" y="161.0">90</text>
<text class="t" x="971" y="135.0">100</text>
<text x="969" y="14.9">eta</text>
<text x="968.1" y="34.9">[%]</text>
<text x="301" y="69">110 %</text>
<text x="297" y="121.5" stroke="#000" stroke-width="0.5">100 %</text>
<text x="152" y="360">30 %</text>
<text x="53.2" y="438.7">Q = 28.7 m³/h</text>
<text x="53.2" y="460.3">n = 101 % / 1452 rpm</text>
<text x="53.2" y="481.9">Liquid temperature during operation = 20 °C</text>
<text x="53.2" y="503.5">Eta pump = 64.5 %</text>
<text x="438.5" y="438.5">H = 16.9 m</text>
<text x="438.5" y="460.1">Pumped liquid = Water</text>
<text x="438.5" y="481.6">Density = 998.2 kg/m³</text>
<text x="438.5" y="503.1">Eta pump+motor+freq.converter = 57.7 %</text>
<text x="53.2" y="718.8">P1 (motor+freq.converter) = 2.285 kW</text>
<text x="53.2" y="740.0">P2 = 2.044 kW</text>
<text x="53.2" y="761.3">NPSH = 1.76 m</text>
<text class="m" x="25.6" y="532.7">P</text>
<text class="m" x="24.75" y="551.8">[kW]</text>
<text class="e t" x="38.3" y="696.9">0.0</text>
<text class="e t" x="38.3" y="667.9">0.5</text>
<text class="e t" x="38.3" y="638.9">1.0</text>
<text class="e t" x="38.3" y="609.9">1.5</text>
<text class="e t" x="38.3" y="580.9">2.0</text>
<text x="966.7" y="532.8">NPSH</text>
<text class="m" x="990.2" y="551.9">[m]</text>
<text class="t" x="971" y="696.9">0</text>
<text class="t" x="971" y="667.9">1</text>
<text class="t" x="971" y="638.9">2</text>
<text class="t" x="971" y="609.9">3</text>
<text class="t" x="971" y="580.9">4</text>
<text class="b" x="668.4" y="543.2">P1 (motor+freq.converter)</text>
<text class="b" x="851" y="580.4">P2</text>
</svg></body></html>
